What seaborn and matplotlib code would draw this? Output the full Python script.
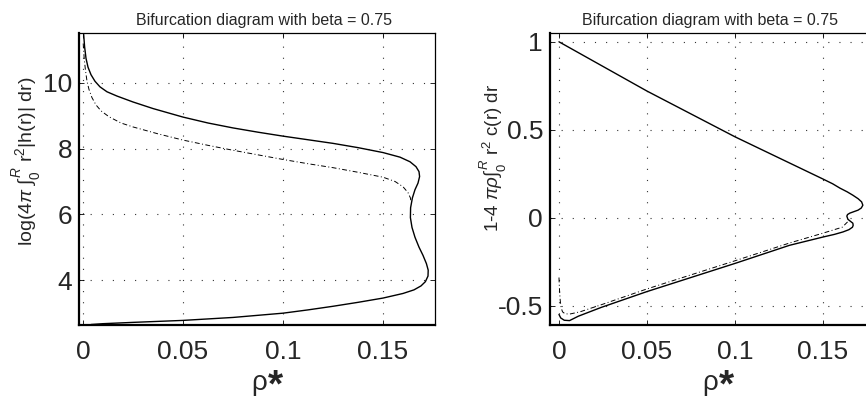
import numpy as np
import pandas as pd
import matplotlib
matplotlib.use("Agg")
import matplotlib.pyplot as plt
import seaborn as sns

# ---- branch data: log(4*pi * int r^2 |h(r)| dr) versus rho* ----
h_solid_rho = [0.0003, 0.0008, 0.0015, 0.0025, 0.004, 0.006, 0.0085, 0.012, 0.017,
               0.025, 0.035, 0.05, 0.0625, 0.075, 0.0875, 0.1, 0.1125, 0.125, 0.1375,
               0.15, 0.1585, 0.1635, 0.1665, 0.168, 0.1683, 0.1675, 0.166, 0.1647,
               0.1638, 0.1637, 0.1645, 0.166, 0.168, 0.170, 0.1717, 0.1726, 0.1725,
               0.1712, 0.169, 0.1655, 0.16, 0.15, 0.1375, 0.125, 0.1125, 0.1, 0.075,
               0.05, 0.025, 0.01, 0.004]
h_solid_val = [11.5, 11.1, 10.75, 10.48, 10.25, 10.05, 9.88, 9.73, 9.6,
               9.42, 9.22, 8.96, 8.78, 8.63, 8.5, 8.38, 8.27, 8.16, 8.03,
               7.88, 7.74, 7.6, 7.45, 7.3, 7.15, 6.95, 6.75, 6.5,
               6.2, 5.9, 5.6, 5.3, 5.0, 4.75, 4.5, 4.3, 4.12,
               3.95, 3.82, 3.7, 3.59, 3.45, 3.32, 3.2, 3.09, 2.99, 2.86,
               2.77, 2.71, 2.67, 2.645]

h_dash_rho = [0.0001, 0.0006, 0.0012, 0.002, 0.003, 0.0045, 0.0065, 0.009, 0.013,
              0.019, 0.025, 0.0375, 0.05, 0.0625, 0.075, 0.0875, 0.1, 0.1125, 0.125,
              0.1375, 0.15, 0.156, 0.160, 0.1625, 0.1637, 0.1640]
h_dash_val = [11.2, 10.75, 10.4, 10.05, 9.8, 9.55, 9.33, 9.15, 8.97,
              8.78, 8.66, 8.45, 8.26, 8.1, 7.95, 7.81, 7.67, 7.54, 7.42,
              7.28, 7.13, 7.0, 6.84, 6.66, 6.5, 6.38]

# ---- branch data: 1 - 4*pi*rho * int r^2 c(r) dr versus rho* ----
c_solid_rho = [0.0, 0.025, 0.05, 0.075, 0.1, 0.125, 0.15, 0.1555, 0.1597, 0.1638,
               0.167, 0.1700, 0.172, 0.1727, 0.1718, 0.170, 0.1675, 0.1653, 0.1640,
               0.1636, 0.1642, 0.1657, 0.167, 0.1672, 0.1668, 0.1648, 0.1614, 0.1565,
               0.15, 0.131, 0.1, 0.075, 0.05, 0.024, 0.011, 0.006, 0.003, 0.001, 0.0]
c_solid_val = [1.0, 0.86, 0.72, 0.59, 0.46, 0.34, 0.22, 0.193, 0.168, 0.147,
               0.128, 0.108, 0.09, 0.071, 0.055, 0.043, 0.034, 0.026, 0.018,
               0.009, -0.009, -0.021, -0.031, -0.043, -0.054, -0.068, -0.081, -0.095,
               -0.11, -0.157, -0.26, -0.34, -0.42, -0.51, -0.56, -0.585, -0.583, -0.57, -0.55]

c_dash_rho = [0.0, 0.0003, 0.0007, 0.0012, 0.002, 0.0034, 0.006, 0.012, 0.024,
              0.05, 0.075, 0.1, 0.131, 0.15, 0.161, 0.164]
c_dash_val = [-0.34, -0.41, -0.47, -0.51, -0.535, -0.546, -0.548, -0.535, -0.495,
              -0.405, -0.325, -0.245, -0.144, -0.088, -0.054, -0.024]

x_ticks = [0, 0.05, 0.1, 0.15]
x_ticklabels = ["0", "0.05", "0.1", "0.15"]
h_yticks = [4, 6, 8, 10]
c_yticks = [-0.5, 0, 0.5, 1]
c_yticklabels = ["-0.5", "0", "0.5", "1"]

title_text = "Bifurcation diagram with beta = 0.75"

sns.set_style("ticks")
plt.rcParams["font.family"] = ["Liberation Sans", "DejaVu Sans"]
plt.rcParams["mathtext.fontset"] = "custom"
plt.rcParams["mathtext.rm"] = "Liberation Sans"
plt.rcParams["mathtext.it"] = "Liberation Sans:italic"
plt.rcParams["mathtext.bf"] = "Liberation Sans:bold"
plt.rcParams["xtick.direction"] = "in"
plt.rcParams["ytick.direction"] = "in"

fig = plt.figure(figsize=(8.66, 3.96), dpi=100)
W, H = 866.0, 396.0


def px_axes(left, right, top, bottom):
    return fig.add_axes([left / W, (H - bottom) / H, (right - left) / W, (bottom - top) / H])


ax1 = px_axes(79, 435, 33, 325)
ax2 = px_axes(550, 872, 33, 325)

df_h_solid = pd.DataFrame({"rho": h_solid_rho, "val": h_solid_val})
df_h_dash = pd.DataFrame({"rho": h_dash_rho, "val": h_dash_val})
df_c_solid = pd.DataFrame({"rho": c_solid_rho, "val": c_solid_val})
df_c_dash = pd.DataFrame({"rho": c_dash_rho, "val": c_dash_val})

dashdot = (0, (5, 2.5, 1, 2.5))
line_kw = dict(x="rho", y="val", sort=False, estimator=None, color="black")
sns.lineplot(data=df_h_solid, ax=ax1, lw=1.0, **line_kw)
sns.lineplot(data=df_h_dash, ax=ax1, lw=0.7, **line_kw)
ax1.lines[-1].set_linestyle(dashdot)
sns.lineplot(data=df_c_solid, ax=ax2, lw=1.0, **line_kw)
sns.lineplot(data=df_c_dash, ax=ax2, lw=0.7, **line_kw)
ax2.lines[-1].set_linestyle(dashdot)

ax1.set_xlim(-0.002, 0.176)
ax1.set_ylim(2.63, 11.52)
ax2.set_xlim(-0.0051, 0.1779)
ax2.set_ylim(-0.61, 1.05)

for ax in (ax1, ax2):
    ax.set_xticks(x_ticks)
    ax.set_xticklabels(x_ticklabels)
    ax.tick_params(axis="both", which="major", labelsize=19, length=3.5, width=0.6,
                   top=True, right=True, color="black")
    ax.tick_params(axis="x", pad=11)
    ax.tick_params(axis="y", pad=5)
    ax.grid(True, color="#333333", lw=0.8, linestyle=(0, (1, 9)))
    for side in ("left", "bottom"):
        ax.spines[side].set_linewidth(1.6)
    for side in ("top", "right"):
        ax.spines[side].set_linewidth(0.9)
    for side in ax.spines.values():
        side.set_color("black")
        side.set_visible(True)

ax1.set_yticks(h_yticks)
ax2.set_yticks(c_yticks)
ax2.set_yticklabels(c_yticklabels)

ax1.set_title(title_text, fontsize=11.5, x=0.52, pad=6)
ax2.set_title(title_text, fontsize=11.5, x=0.497, pad=6)

ax1.set_ylabel(r"log(4$\pi$ $\int_0^R$ r$^2$|h(r)| dr)", fontsize=14)
ax1.yaxis.set_label_coords(-0.100, 0.562)
ax2.set_ylabel(r"1-4 $\pi\rho\int_0^R$ r$^2$ c(r) dr", fontsize=13.5)
ax2.yaxis.set_label_coords(-0.126, 0.572)

# x-axis label: rho with a large bold star
for ax, xr, xs in ((ax1, 0.506, 0.551), (ax2, 0.497, 0.547)):
    ax.set_xlabel("ρ", fontsize=20)
    ax.xaxis.set_label_coords(xr, -0.154)
    ax.text(xs, -0.147, r"$\mathbf{*}$", transform=ax.transAxes, fontsize=28,
            ha="center", va="top")

fig.savefig("out.png", dpi=100)
